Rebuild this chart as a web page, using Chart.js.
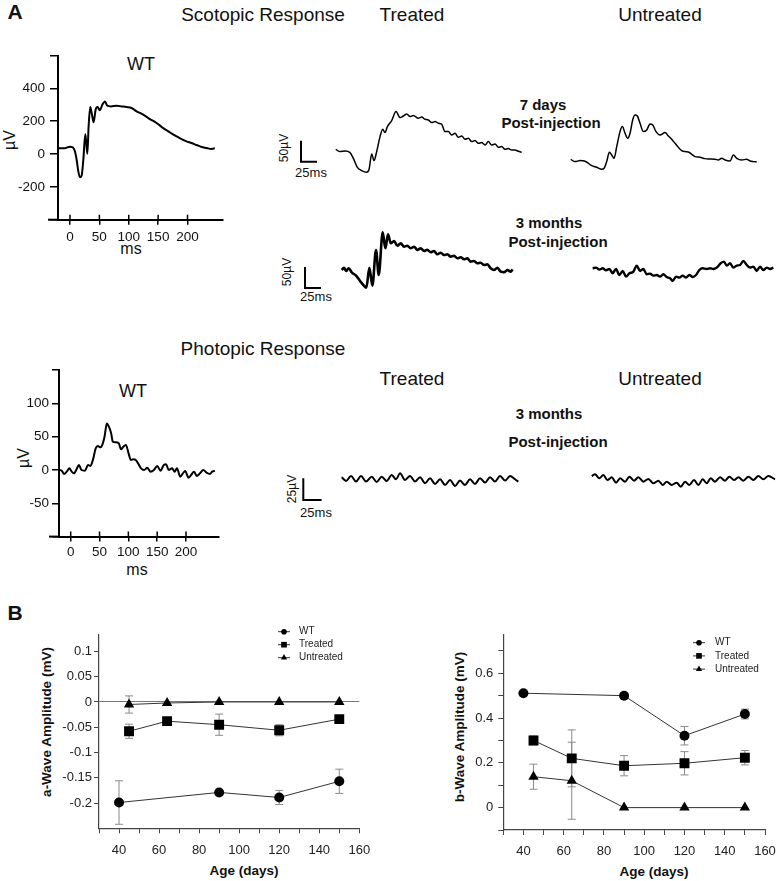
<!DOCTYPE html>
<html>
<head>
<meta charset="utf-8">
<script src="https://cdn.jsdelivr.net/npm/chart.js@4.4.0/dist/chart.umd.min.js"></script>
<style>
  body { margin:0; width:777px; height:881px; position:relative; overflow:hidden; background:#fff;
         font-family:"Liberation Sans", Arial, sans-serif; color:#111; }
  .box { position:absolute; }
  .lbl { position:absolute; white-space:nowrap; line-height:1; transform:translate(-50%,-50%); }
  .rot { transform:translate(-50%,-50%) rotate(-90deg); }
  .b { font-weight:bold; }
</style>
</head>
<body>

<!-- panel A -->
<div class="lbl b" style="left:15px;top:11px;font-size:21px">A</div>
<div class="lbl" style="left:263px;top:14px;font-size:19px">Scotopic Response</div>
<div class="lbl" style="left:412px;top:14px;font-size:19px">Treated</div>
<div class="lbl" style="left:660px;top:14px;font-size:19px">Untreated</div>
<div class="lbl" style="left:141px;top:64px;font-size:18px">WT</div>
<div class="lbl rot" style="left:10px;top:140px;font-size:16px">µV</div>
<div class="lbl" style="left:131px;top:249px;font-size:16px">ms</div>
<div class="lbl b" style="left:543px;top:104px;font-size:15px">7 days</div>
<div class="lbl b" style="left:551px;top:122px;font-size:15px">Post-injection</div>
<div class="lbl b" style="left:549px;top:222px;font-size:15px">3 months</div>
<div class="lbl b" style="left:558px;top:241px;font-size:15px">Post-injection</div>
<div class="lbl rot" style="left:284px;top:148px;font-size:12px">50µV</div>
<div class="lbl" style="left:311px;top:172px;font-size:13px">25ms</div>
<div class="lbl rot" style="left:287px;top:272px;font-size:12px">50µV</div>
<div class="lbl" style="left:316px;top:296px;font-size:13px">25ms</div>

<div class="lbl" style="left:263px;top:348px;font-size:19px">Photopic Response</div>
<div class="lbl" style="left:133px;top:391px;font-size:18px">WT</div>
<div class="lbl" style="left:412px;top:378px;font-size:19px">Treated</div>
<div class="lbl" style="left:660px;top:378px;font-size:19px">Untreated</div>
<div class="lbl rot" style="left:24px;top:458px;font-size:16px">µV</div>
<div class="lbl" style="left:137px;top:570px;font-size:16px">ms</div>
<div class="lbl b" style="left:549px;top:413px;font-size:15px">3 months</div>
<div class="lbl b" style="left:558px;top:441px;font-size:15px">Post-injection</div>
<div class="lbl rot" style="left:292px;top:489px;font-size:12px">25µV</div>
<div class="lbl" style="left:316px;top:512px;font-size:13px">25ms</div>

<!-- panel B -->
<div class="lbl b" style="left:15px;top:612px;font-size:21px">B</div>
<div class="lbl rot b" style="left:47px;top:722px;font-size:13.5px">a-Wave Amplitude (mV)</div>
<div class="lbl b" style="left:244px;top:871px;font-size:13.5px">Age (days)</div>
<div class="lbl rot b" style="left:460px;top:727px;font-size:13.5px">b-Wave Amplitude (mV)</div>
<div class="lbl b" style="left:654px;top:872px;font-size:13.5px">Age (days)</div>

<script>
/* ===== DATA : ERG traces (ms, µV) ===== */
const scotWT_t = [-20,-9,0,4.5,8.5,11.3,14.2,17,19.8,22.7,26.1,29.5,31.7,34.5,37.4,40.2,43.6,47,51,55,59.5,63.5,69.7,79.4,87.8,96.3,104.8,113.3,124.6,136,147.3,158.6,170,181.3,189.8,198.3,206.8,215.3,223.8,232.3,240.8,246.5];
const scotWT_v = [35,35,45,41,15,-35,-106,-142,-132,-35,122,2,168,286,240,193,270,286,266,300,320,294,290,294,290,286,280,260,240,213,189,158,132,108,91,77,67,55,43,37,31,35];

const s7Trt_t = [0,7.2,15.6,23.9,29.4,36.1,43.3,51.7,55.6,60,63.9,68.3,73.9,78.3,82.2,86.1,93.3,100.6,107.2,112.8,118.3,123.9,129.4,137.8,143.3,148.9,154.4,160,165.6,171.1,176.7,182.2,187.8,193.3,198.9,204.4,210,215.6,221.1,226.7,232.2,237.8,243.3,248.9,254.4,260,265.6,271.1,276.7,282.2,287.8,293.3,298.9,304.4,310];
const s7Trt_v = [0,-5.8,-4.2,-8.3,-22.5,-45,-53.3,-57.5,-50,-11.7,-28.3,-5.8,31.7,50,41.7,56.7,71.7,94.2,79.2,83.3,88.3,81.7,84.2,77.5,80.8,75,73.3,66.7,69.2,65,62.5,44.2,44.2,35.8,40,30,33.3,25,27.5,19.2,21.7,15,16.7,10.8,19.2,10.8,13.3,5,6.7,0,1.7,-1.7,-1.7,-5,-7.5];

const s7Unt_t = [0,7.2,15.6,23.9,29.4,35,43.3,51.7,55.6,60,64.4,68.3,72.2,76.7,82.2,86.1,90.6,95,98.9,103.3,107.2,111.1,115.6,121.1,126.7,132.2,136.7,142.2,148.9,157.2,162.8,168.3,173.9,179.4,185,190.6,196.1,201.7,207.2,215.6,223.9,232.2,240.6,246.1,251.7,257.2,265.6,271.1,276.7,285,293.3,298.9,304.4,310];
const s7Unt_v = [0,-5.8,-3.3,-5,-10,-15.8,-20,-25,-22.5,-5.8,17.5,10.8,2.5,31.7,69.2,81.7,65,52.5,65,98.3,110.8,108.3,90,69.2,73.3,88.3,85.8,69.2,60.8,66.7,58.3,50,40,30,21.7,19.2,18.3,12.5,6.7,5,1.7,0.8,0,-1.7,2.5,-1.7,-4.2,10.8,2.5,-1.7,0,-4.2,-5.8,-6.7];

const s3Trt_t = [0,3.9,7.2,11.7,16.7,23.9,30.6,36.1,41.1,46.1,51.1,57.2,61.7,68.3,72.8,77.2,81.7,87.2,92.8,98.3,103.9,109.4,115,120.6,126.1,131.7,137.2,142.8,148.3,153.9,159.4,165,170.6,176.1,181.7,187.2,192.8,198.3,203.9,209.4,215,220.6,226.1,231.7,237.2,242.8,248.3,253.9,259.4,265,270.6,276.1,281.7,285];
const s3Trt_v = [0,5.8,-2.5,4.2,-5.8,-14.2,-27.5,-37.5,-44.2,5.8,-39.2,50,-12.5,94.2,54.2,89.2,66.7,72.5,60.8,66.7,58.3,60.8,54.2,58.3,50,54.2,47.5,50.8,44.2,47.5,39.2,43.3,37.5,39.2,33.3,35.8,29.2,31.7,26.7,29.2,20.8,22.5,16.7,18.3,12.5,14.2,4.2,0,5.8,-4.2,-5.8,0,-4.2,1.7];

const s3Unt_t = [0,5.6,11.1,16.7,22.2,27.8,33.3,38.9,44.4,50,55.6,61.1,67.8,73.3,78.9,84.4,90,95.6,101.1,106.7,112.2,117.8,123.3,128.9,133.3,138.9,144.4,150,155.6,161.1,166.7,172.2,177.8,183.3,190,195.6,201.1,206.7,213.3,218.9,223.3,228.9,234.4,240,245.6,251.1,256.7,262.2,267.8,273.3,278.9,284.4,290,295.6,301.1];
const s3Unt_v = [0,1.7,-3.3,0,-5,-1.7,-12.5,-1.7,-16.7,-6.7,-20.8,-12.5,-8.3,6.7,-6.7,-1.7,-15,-13.3,-18.3,-16.7,-20.8,-15,-21.7,-25,-31.7,-20.8,-23.3,-18.3,-23.3,-16.7,-21.7,-16.7,-4.2,0,-1.7,0,-1.7,1.7,12.5,16.7,6.7,12.5,1.7,6.7,8.3,18.3,8.3,1.7,4.2,-6.7,4.2,-4.2,1.7,-1.7,1.7];

const photWT_t = [-19.5,-15.5,-11.5,-6.9,-2.3,1.7,5.7,10.2,14.2,18.8,24.5,30.2,34.2,38.8,43.3,47.3,51.3,54.7,58.7,62.7,66.2,70.2,73,77.6,83.3,87.3,91.3,95.8,100.4,104.4,108.4,112.9,117.5,122,127.2,132.9,138.6,144.3,150,155.8,161.5,165.4,170,175.8,180.3,184.3,190,194.6,198.6,204.3,208.8,214,218.6,224.3,230,235.7,241.4,245.4,250];
const photWT_v = [0,-1,-6,-2.5,2.5,-2.5,-5,1,7.5,0,-1,7.5,6,16,32.5,36,34,37.5,50,70,65,55,42.5,41.5,40,31,35,37.5,25,15,16,15,9,2.5,0,3.5,-2.5,0,6,-1,7.5,8.5,0,2.5,-2.5,2.5,-10,-5,-1.5,-11.5,-7.5,-2.5,-9,-5,0,-4,-6,-2.5,-1];

const pTrt_t = [0,6.3,13.5,20.8,28,35.3,43.5,50.7,58,65.2,72.5,78.7,84.5,91.8,99,106.3,113.5,120.8,128,135.3,142.5,149.8,157,164.3,171.5,178.7,186,193.2,200.5,207.7,215,222.2,229.5,237,244,251.2,256];
const pTrt_v = [0,-4.4,1.6,-5.2,1.6,-5.2,0.8,-5.6,0.8,-4.4,2.8,-2.4,4.8,-3.2,1.6,-5.2,0,-7.2,-1.2,-8,-2.4,-9.2,-3.2,-10.4,-4,-9.2,-2.4,-8,-1.2,-6.4,0,-5.2,1.6,-4,1.6,-2.4,-5.2];

const pUnt_t = [0,4.8,11.1,16.9,22.7,29,35.3,41.1,48.3,54.6,61.4,67.6,74.9,82.1,89.4,96.6,102.9,108.7,115.9,123.2,129,135.3,141.5,148.3,154.6,160.9,166.7,172.5,178.7,186,193.2,199.5,206.3,212.6,219.8,227.1,234.3,241.5,248.8,256,265.7];
const pUnt_v = [0,2,-2.8,1.2,-4.8,-1.6,-8,-2.8,-6.8,-0.8,-5.6,-1.6,-6.8,-3.6,-8.8,-5.6,-10.8,-6.8,-10.8,-8,-12.9,-6.8,-10.8,-4.8,-10.8,-4,-8.8,-2.8,-6.8,-1.6,-5.6,-0.8,-4.8,-1.6,-5.6,-0.8,-4.8,0,-4,0,-4];

/* axis ticks of the WT traces */
const scotXTicks = [0, 50, 100, 150, 200];
const scotYTicks = [-400, -200, 0, 200, 400, 600];
const scotYLabels = [-200, 0, 200, 400];
const photYTicks = [-100, -50, 0, 50, 100, 150];
const photYLabels = [-50, 0, 50, 100];

/* ===== DATA : panel B (age in days, amplitude in mV) ===== */
const ageWT = [40, 90, 120, 150];
const ageEyes = [45, 64, 90, 120, 150];
const aWT = [-0.199, -0.179, -0.189, -0.157];
const aWTErr = [0.043, 0, 0.014, 0.024];
const aTreated = [-0.058, -0.038, -0.045, -0.056, -0.034];
const aTreatedErr = [0.014, 0, 0.021, 0.011, 0];
const aUntreated = [-0.005, -0.002, 0, 0, 0];
const aUntreatedErr = [0.017, 0, 0, 0, 0];
const bWT = [0.511, 0.50, 0.321, 0.418];
const bWTErr = [0, 0, 0.041, 0.022];
const bTreated = [0.30, 0.22, 0.187, 0.198, 0.223];
const bTreatedErr = [0.02, 0.127, 0.045, 0.052, 0.032];
const bUntreated = [0.138, 0.12, 0, 0, 0];
const bUntreatedErr = [0.056, 0.172, 0, 0, 0];

const ageTicks = [30, 40, 50, 60, 70, 80, 90, 100, 110, 120, 130, 140, 150, 160];
const ageLabels = [40, 60, 80, 100, 120, 140, 160];
const aTicks = [-0.2, -0.15, -0.1, -0.05, 0, 0.05, 0.1];
const bTicks = [-0.1, 0, 0.1, 0.2, 0.3, 0.4, 0.5, 0.6, 0.7];
const bLabels = [0, 0.2, 0.4, 0.6];

/* ===== SETUP ===== */
const FONT = '"Liberation Sans", Arial, sans-serif';
Chart.defaults.font.family = FONT;
Chart.defaults.color = '#111';

function place(id, L, T, W, H) {
  const d = document.createElement('div');
  d.className = 'box';
  d.style.cssText = `left:${L}px;top:${T}px;width:${W}px;height:${H}px`;
  const c = document.createElement('canvas');
  c.id = id; c.width = W; c.height = H;
  d.appendChild(c);
  document.body.appendChild(d);
  return c;
}
const pts = (xs, ys) => xs.map((x, i) => ({x, y: ys[i]}));
const noPad = s => { s.paddingLeft = s.paddingRight = s.paddingTop = s.paddingBottom = 0; };

/* ===== PLUGINS ===== */
// ticks crossing into the plot + x axis stub left of the y axis
const axisMarks = {
  id: 'axisMarks',
  afterDraw(chart, args, o) {
    const {ctx, chartArea: a, scales: {x}} = chart;
    ctx.save();
    ctx.strokeStyle = '#000';
    ctx.lineWidth = 1.5;
    ctx.beginPath();
    x.ticks.forEach(t => {
      const p = x.getPixelForValue(t.value);
      ctx.moveTo(p, a.bottom); ctx.lineTo(p, a.bottom - o.inner);
    });
    ctx.stroke();
    ctx.lineWidth = 2;
    ctx.beginPath(); ctx.moveTo(a.left - o.stub, a.bottom); ctx.lineTo(a.left, a.bottom); ctx.stroke();
    ctx.restore();
  }
};

// L shaped calibration bar, its size comes from the chart scales
const scaleBar = {
  id: 'scaleBar',
  afterDraw(chart, args, o) {
    if (o.ms == null) return;
    const {ctx, scales: {x, y}} = chart;
    const w = x.getPixelForValue(o.ms) - x.getPixelForValue(0);
    const h = y.getPixelForValue(0) - y.getPixelForValue(o.uV);
    ctx.save();
    ctx.strokeStyle = '#000'; ctx.lineWidth = 2; ctx.lineCap = 'square';
    ctx.beginPath();
    ctx.moveTo(o.x, o.y - h); ctx.lineTo(o.x, o.y); ctx.lineTo(o.x + w, o.y);
    ctx.stroke();
    ctx.restore();
  }
};

// vertical error bars with caps
const errorBars = {
  id: 'errorBars',
  beforeDatasetsDraw(chart) {
    const {ctx, scales: {y}} = chart;
    chart.data.datasets.forEach((ds, i) => {
      if (!ds.errors) return;
      const meta = chart.getDatasetMeta(i);
      ctx.save();
      ctx.strokeStyle = '#8a8a8a'; ctx.lineWidth = 1;
      ds.errors.forEach((e, j) => {
        if (!e) return;
        const px = meta.data[j].x, v = ds.data[j].y;
        const y1 = y.getPixelForValue(v + e), y2 = y.getPixelForValue(v - e);
        ctx.beginPath();
        ctx.moveTo(px, y1); ctx.lineTo(px, y2);
        ctx.moveTo(px - 4, y1); ctx.lineTo(px + 4, y1);
        ctx.moveTo(px - 4, y2); ctx.lineTo(px + 4, y2);
        ctx.stroke();
      });
      ctx.restore();
    });
  }
};

// small legend: line + marker + name
const rowLegend = {
  id: 'rowLegend',
  afterDraw(chart, args, o) {
    const ctx = chart.ctx;
    const r = {circle: 2.8, rect: 4, triangle: 3.6};
    chart.data.datasets.forEach((ds, i) => {
      const y = o.y + i * o.dy;
      ctx.save();
      ctx.strokeStyle = '#333'; ctx.lineWidth = 1;
      ctx.beginPath(); ctx.moveTo(o.x - 6, y); ctx.lineTo(o.x + 6, y); ctx.stroke();
      ctx.fillStyle = '#000';
      Chart.helpers.drawPoint(ctx, {pointStyle: ds.pointStyle, radius: r[ds.pointStyle], borderWidth: 0, rotation: 0}, o.x, y);
      ctx.font = '10px ' + FONT;
      ctx.textBaseline = 'middle';
      ctx.fillStyle = '#222';
      ctx.fillText(ds.label, o.x + o.gap, y);
      ctx.restore();
    });
  }
};

/* ===== WAVEFORMS WITHOUT AXES ===== */
// origin = page pixel of (0 ms, 0 µV); sx, sy = px per ms / per µV
function trace(id, box, origin, sx, sy, t, v, lw, bar) {
  const [L, T, W, H] = box;
  new Chart(place(id, L, T, W, H), {
    type: 'scatter',
    data: { datasets: [{ data: pts(t, v), showLine: true, borderColor: '#000', borderWidth: lw,
                         pointRadius: 0, cubicInterpolationMode: 'monotone' }] },
    options: {
      responsive: false, animation: false, events: [],
      layout: { padding: 0 },
      plugins: { legend: { display: false }, tooltip: { enabled: false },
                 scaleBar: bar ? { ms: bar.ms, uV: bar.uV, x: bar.x - L, y: bar.y - T } : {} },
      scales: {
        x: { type: 'linear', display: false, min: (L - origin[0]) / sx, max: (L + W - origin[0]) / sx },
        y: { display: false, min: (origin[1] - T - H) / sy, max: (origin[1] - T) / sy }
      }
    },
    plugins: bar ? [scaleBar] : []
  });
}

/* ===== WT WAVEFORMS WITH AXES ===== */
function waveAxes(id, box, area, xr, yr, yTicks, yLabels, t, v) {
  const [L, T, W, H] = box;
  new Chart(place(id, L, T, W, H), {
    type: 'scatter',
    data: { datasets: [{ data: pts(t, v), showLine: true, borderColor: '#000', borderWidth: 2,
                         pointRadius: 0, cubicInterpolationMode: 'monotone' }] },
    options: {
      responsive: false, animation: false, events: [],
      layout: { padding: { left: 0, top: area.top - T, right: L + W - area.right, bottom: 0 } },
      plugins: { legend: { display: false }, tooltip: { enabled: false }, axisMarks: { inner: 5, stub: 10 } },
      scales: {
        x: {
          type: 'linear', min: xr[0], max: xr[1],
          afterBuildTicks: s => { s.ticks = scotXTicks.map(value => ({value})); },
          afterFit: s => { s.height = T + H - area.bottom; noPad(s); },
          border: { color: '#000', width: 2 },
          grid: { drawOnChartArea: false, color: '#000', lineWidth: 1.5, tickLength: 5 },
          ticks: { color: '#111', font: { size: 13.5 }, padding: area.xPad, maxRotation: 0, autoSkip: false,
                   callback: val => String(val) }
        },
        y: {
          min: yr[0], max: yr[1],
          afterBuildTicks: s => { s.ticks = yTicks.map(value => ({value})); },
          afterFit: s => { s.width = area.left - L; noPad(s); },
          border: { color: '#000', width: 2 },
          grid: { drawOnChartArea: false, color: '#000', lineWidth: 1.5, tickLength: area.yTick },
          ticks: { color: '#111', font: { size: 13.5 }, padding: area.yPad, autoSkip: false,
                   callback: val => yLabels.includes(val) ? String(val) : '' }
        }
      }
    },
    plugins: [axisMarks]
  });
}

/* ===== PANEL B ===== */
function ageChart(id, box, area, yr, yTicks, yLabels, sets, legend, zeroLine) {
  const [L, T, W, H] = box;
  new Chart(place(id, L, T, W, H), {
    type: 'scatter',
    data: {
      datasets: sets.map(s => ({
        label: s.label, data: pts(s.x, s.y), errors: s.err, showLine: true,
        borderColor: '#333', borderWidth: 1, pointStyle: s.style, pointRadius: s.r,
        pointBackgroundColor: '#000', pointBorderColor: '#000', pointBorderWidth: 0
      }))
    },
    options: {
      responsive: false, animation: false, events: [],
      layout: { padding: { left: 0, top: area.top - T, right: L + W - area.right, bottom: 0 } },
      plugins: { legend: { display: false }, tooltip: { enabled: false },
                 rowLegend: { x: legend.x - L, y: legend.y - T, dy: legend.dy, gap: legend.gap } },
      scales: {
        x: {
          type: 'linear', min: 30, max: 160,
          afterBuildTicks: s => { s.ticks = ageTicks.map(value => ({value})); },
          afterFit: s => { s.height = T + H - area.bottom; noPad(s); },
          border: { color: '#444', width: 1.2 },
          grid: { drawOnChartArea: false, color: '#444', lineWidth: 1, tickLength: 5 },
          ticks: { color: '#222', font: { size: 13 }, padding: 9, maxRotation: 0, autoSkip: false,
                   callback: val => ageLabels.includes(val) ? String(val) : '' }
        },
        y: {
          min: yr[0], max: yr[1],
          afterBuildTicks: s => { s.ticks = yTicks.map(value => ({value})); },
          afterFit: s => { s.width = area.left - L; noPad(s); },
          border: { color: '#444', width: 1.2 },
          grid: { drawOnChartArea: zeroLine, lineWidth: 1, tickLength: 5, tickColor: '#444',
                  color: c => (zeroLine && c.tick && c.tick.value === 0) ? '#777' : 'rgba(0,0,0,0)' },
          ticks: { color: '#222', font: { size: 13 }, padding: area.yPad, autoSkip: false,
                   callback: val => yLabels.includes(val) ? String(val) : '' }
        }
      }
    },
    plugins: [errorBars, rowLegend]
  });
}

/* ===== DRAW ===== */
// scotopic
waveAxes('scotWT', [0, 40, 240, 235], { left: 58, right: 223, top: 55.5, bottom: 219.7, xPad: 4, yTick: 8, yPad: 5 },
  [-20.4, 260.4], [-400, 600], scotYTicks, scotYLabels, scotWT_t, scotWT_v);
trace('s7Trt', [270, 90, 260, 100], [335.7, 149.3], 0.6, 0.4, s7Trt_t, s7Trt_v, 1.5,
  { ms: 25, uV: 50, x: 301, y: 161.7 });
trace('s7Unt', [560, 90, 217, 90], [570.7, 159.3], 0.6, 0.4, s7Unt_t, s7Unt_v, 1.5);
trace('s3Trt', [270, 200, 250, 110], [341.7, 270], 0.6, 0.4, s3Trt_t, s3Trt_v, 2.6,
  { ms: 25, uV: 50, x: 305, y: 288 });
trace('s3Unt', [580, 240, 197, 50], [592.7, 268.3], 0.6, 0.4, s3Unt_t, s3Unt_v, 2.4);

// photopic
waveAxes('photWT', [0, 355, 240, 215], { left: 59, right: 218.3, top: 370.1, bottom: 536.6, xPad: 3, yTick: 7, yPad: 3 },
  [-20.3, 256], [-100, 150], photYTicks, photYLabels, photWT_t, photWT_v);
trace('pTrt', [270, 455, 260, 70], [341.7, 477.3], 0.69, 0.83, pTrt_t, pTrt_v, 2,
  { ms: 25, uV: 25, x: 303.3, y: 500 });
trace('pUnt', [580, 455, 197, 45], [591.7, 476], 0.69, 0.83, pUnt_t, pUnt_v, 2);

// panel B
ageChart('aWave', [0, 620, 380, 261], { left: 99, right: 359.3, top: 635, bottom: 828.3, yPad: 2 },
  [-0.25, 0.1325], aTicks, aTicks,
  [ { label: 'WT', x: ageWT, y: aWT, err: aWTErr, style: 'circle', r: 5 },
    { label: 'Treated', x: ageEyes, y: aTreated, err: aTreatedErr, style: 'rect', r: 7 },
    { label: 'Untreated', x: ageEyes, y: aUntreated, err: aUntreatedErr, style: 'triangle', r: 6 } ],
  { x: 284, y: 631.7, dy: 13, gap: 15 }, true);

ageChart('bWave', [390, 620, 387, 261], { left: 503.3, right: 765, top: 635, bottom: 830, yPad: 5 },
  [-0.1, 0.771], bTicks, bLabels,
  [ { label: 'WT', x: ageWT, y: bWT, err: bWTErr, style: 'circle', r: 5 },
    { label: 'Treated', x: ageEyes, y: bTreated, err: bTreatedErr, style: 'rect', r: 7 },
    { label: 'Untreated', x: ageEyes, y: bUntreated, err: bUntreatedErr, style: 'triangle', r: 6 } ],
  { x: 699, y: 642.7, dy: 13.2, gap: 16 }, false);
</script>
</body>
</html>
